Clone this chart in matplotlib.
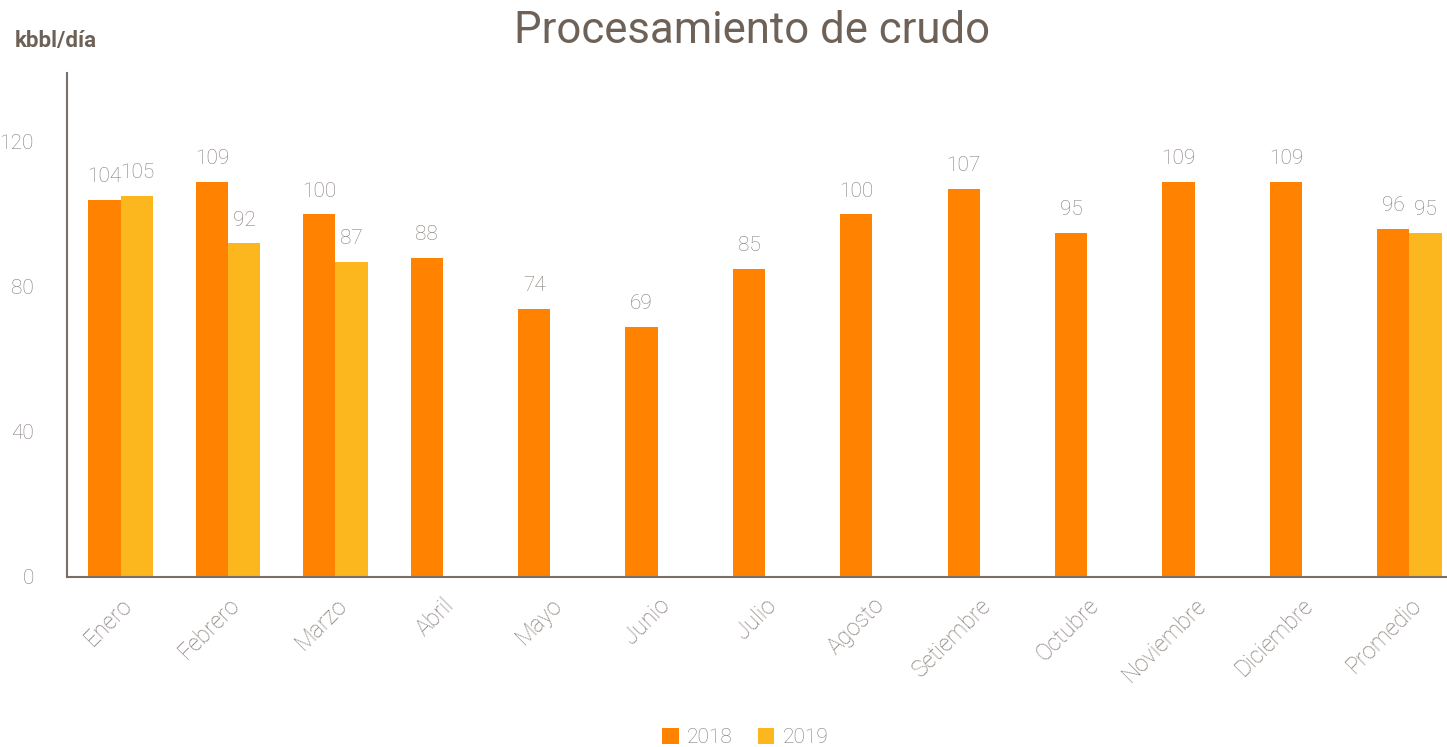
import numpy as np
import matplotlib.pyplot as plt

meses = ['Enero', 'Febrero', 'Marzo', 'Abril', 'Mayo', 'Junio', 'Julio',
         'Agosto', 'Setiembre', 'Octubre', 'Noviembre', 'Diciembre', 'Promedio']
v2018 = [104, 109, 100, 88, 74, 69, 85, 100, 107, 95, 109, 109, 96]
v2019 = [105, 92, 87, None, None, None, None, None, None, None, None, None, 95]

c2018 = '#FF8300'
c2019 = '#FDB71E'
gris = '#847b76'
marron = '#6e6258'

plt.rcParams['font.family'] = ['Roboto', 'DejaVu Sans']

fig = plt.figure(figsize=(14.47, 7.47), dpi=100)
ax = fig.add_axes([67/1447, 1-577/747, 1380/1447, 504/747])

x = np.arange(len(meses))
w = 0.30
ax.bar(x - w/2, v2018, w, color=c2018, label='2018')
x19 = [xi + w/2 for xi, v in zip(x, v2019) if v is not None]
y19 = [v for v in v2019 if v is not None]
ax.bar(x19, y19, w, color=c2019, label='2019')

for xi, v in zip(x, v2018):
    ax.annotate(str(v), (xi - w/2, v), xytext=(0, 10), textcoords='offset points',
                ha='center', va='bottom', fontsize=15, color=gris, fontweight='light')
for xi, v in zip(x19, y19):
    ax.annotate(str(v), (xi, v), xytext=(0, 10), textcoords='offset points',
                ha='center', va='bottom', fontsize=15, color=gris, fontweight='light')

ax.set_xlim(-0.5, 12.35)
ax.set_ylim(0, 139)
ax.set_yticks([0, 40, 80, 120])
ax.tick_params(axis='both', length=0, labelsize=15, labelcolor=gris)
ax.tick_params(axis='y', pad=24)
ax.tick_params(axis='x', pad=12, labelsize=16.5)
ax.set_xticks(x)
ax.set_xticklabels(meses, rotation=45, ha='right', rotation_mode='anchor', fontweight='light')
for lab in ax.get_yticklabels():
    lab.set_fontweight('light')

for s in ['top', 'right']:
    ax.spines[s].set_visible(False)
for s in ['left', 'bottom']:
    ax.spines[s].set_color('#7a6f68')
    ax.spines[s].set_linewidth(1.5)

fig.text(0.52, 0.958, 'Procesamiento de crudo', ha='center', va='center',
         fontsize=31.5, color=marron)
fig.text(0.01, 0.945, 'kbbl/día', ha='left', va='center', fontsize=16,
         fontweight='bold', color=marron)

leg = fig.legend(loc='center', bbox_to_anchor=(0.515, 0.013), ncol=2,
                 frameon=False, fontsize=15, handlelength=0.8, handleheight=0.8,
                 handletextpad=0.4, columnspacing=1.2)
for t in leg.get_texts():
    t.set_color(gris)
    t.set_fontweight('light')

plt.savefig('out.png', dpi=100)
